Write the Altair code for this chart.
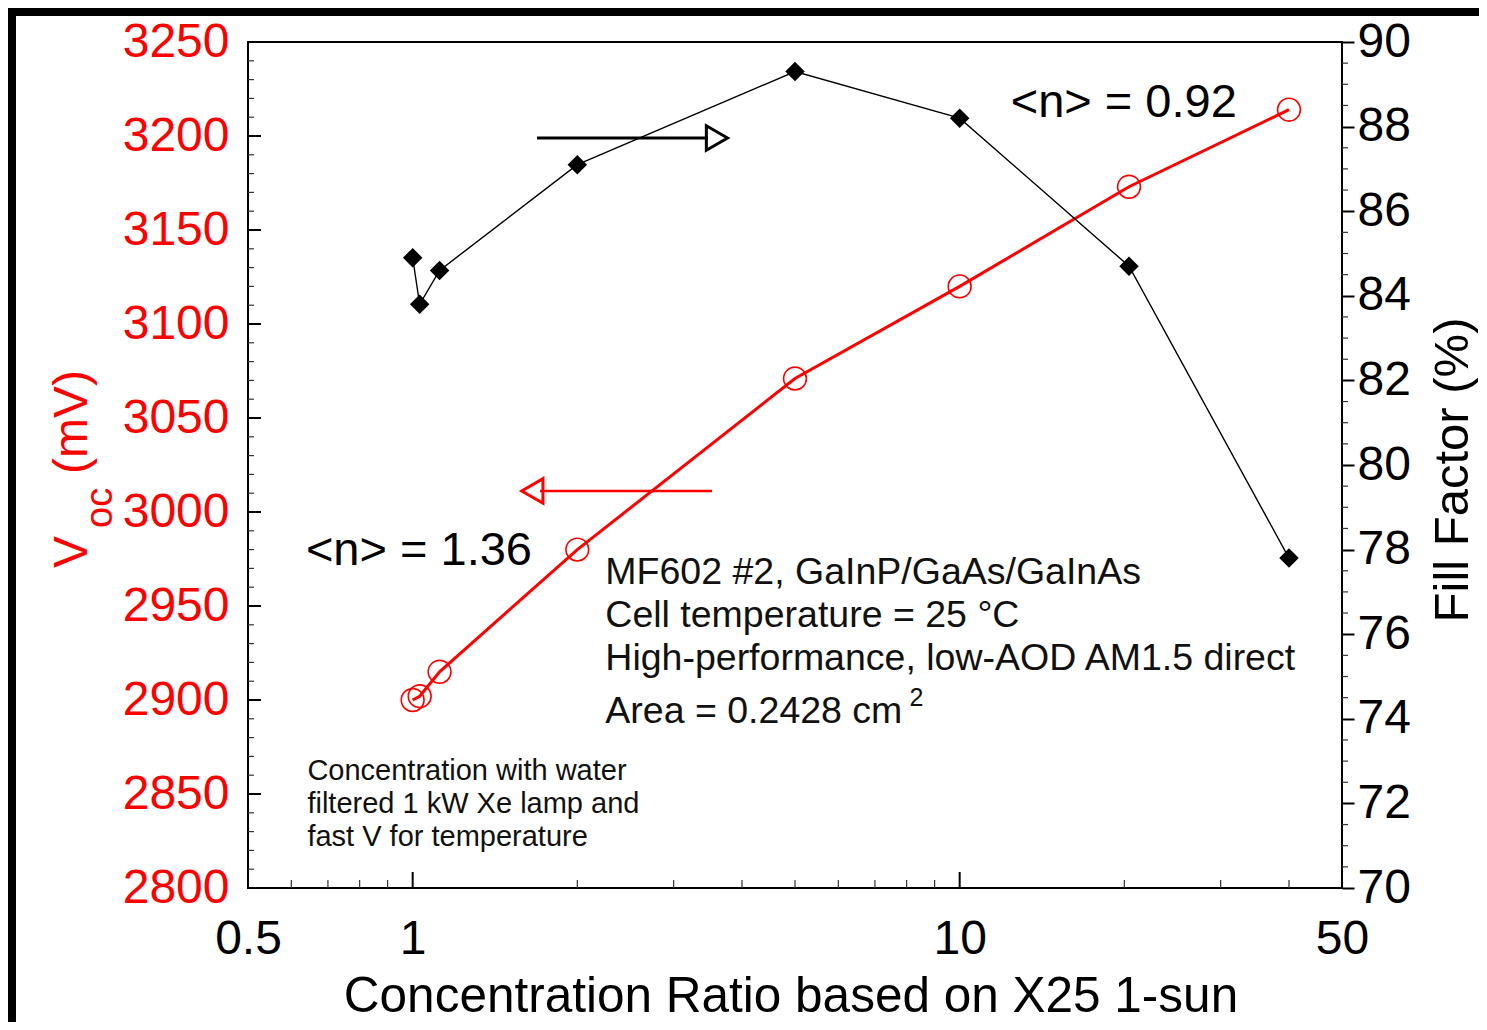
import altair as alt
import pandas as pd

# ---- data ----
conc = [1.0, 1.03, 1.12, 2.0, 5.0, 10.0, 20.4, 40.0]
voc = [2900, 2902, 2915, 2980, 3071, 3120, 3173, 3214]
ff = [84.9, 83.8, 84.6, 87.1, 89.3, 88.2, 84.7, 77.8]

x_label_vals = [0.5, 1, 10, 50]
x_major = [1, 10]
x_minor = [0.6, 0.7, 0.8, 0.9, 2, 3, 4, 5, 6, 7, 8, 9, 20, 30, 40]
voc_major = [2800, 2850, 2900, 2950, 3000, 3050, 3100, 3150, 3200, 3250]
voc_minor = [v for v in range(2800, 3251, 10) if v % 50]
ff_major = [70, 72, 74, 76, 78, 80, 82, 84, 86, 88, 90]
ff_minor = [70 + 0.5 * i for i in range(41) if i % 4]

ann_text = ["<n> = 0.92", "<n> = 1.36"]
ann_x = [12.4, 0.638]
ann_y = [3210.0, 2972.0]

info_text = ["MF602 #2, GaInP/GaAs/GaInAs", "Cell temperature = 25 \u00b0C",
             "High-performance, low-AOD AM1.5 direct", "Area = 0.2428 cm"]
info_x = [2.25, 2.25, 2.25, 2.25]
info_y = [2961.7, 2938.8, 2916.0, 2887.8]
sup_text = ["2"]
sup_x = [8.1]
sup_y = [2896.8]

note_text = ["Concentration with water", "filtered 1 kW Xe lamp and", "fast V for temperature"]
note_x = [0.642, 0.642, 0.642]
note_y = [2857.4, 2839.9, 2822.3]

# arrows (data coordinates)
blk_arrow_x = [1.688, 3.467]
blk_arrow_head_x = [3.60]
blk_arrow_y = [87.73]
red_arrow_x = [1.709, 3.526]
red_arrow_head_x = [1.655]
red_arrow_y = [3011.2]

RED = "#ff0000"
FONT = "Liberation Sans"
W, H = 1094, 846

x_scale = alt.Scale(type="log", domain=[0.5, 50], nice=False)
voc_scale = alt.Scale(domain=[2800, 3250], nice=False, zero=False)
ff_scale = alt.Scale(domain=[70, 90], nice=False, zero=False)

x_axis = alt.Axis(values=x_label_vals, format="~g", ticks=False, domain=False, grid=False,
                  labelFontSize=48, labelPadding=27, labelFlush=False, labelOverlap=False,
                  labelColor="black", labelFont=FONT, title=None)
voc_axis = alt.Axis(orient="left", values=voc_major, format="d", ticks=False, domain=False,
                    grid=False, labelFontSize=48, labelColor=RED, labelPadding=19,
                    labelFlush=False, labelOverlap=False, labelFont=FONT, title=None)
ff_axis = alt.Axis(orient="right", values=ff_major, format="d", ticks=True, tickSize=12,
                   tickWidth=2, tickColor="black", domain=False, grid=False, labelFontSize=48,
                   labelColor="black", labelPadding=3, labelFlush=False, labelOverlap=False,
                   labelFont=FONT, title=None)

main = pd.DataFrame({"conc": conc, "voc": voc, "ff": ff})
one = pd.DataFrame({"a": [0]})


def Xq(f):
    return alt.X(f, type="quantitative", scale=x_scale, axis=x_axis)


def Yv(f):
    return alt.Y(f, type="quantitative", scale=voc_scale, axis=voc_axis)


def Yf(f):
    return alt.Y(f, type="quantitative", scale=ff_scale, axis=ff_axis)


# ---------------- red (left axis) group ----------------
red_line = alt.Chart(main).mark_line(color=RED, strokeWidth=3).encode(x=Xq("conc"), y=Yv("voc"))
red_pts = alt.Chart(main).mark_point(shape="circle", filled=False, color=RED, size=520,
                                     strokeWidth=1.6, opacity=1).encode(x=Xq("conc"), y=Yv("voc"))

lt_major = alt.Chart(pd.DataFrame({"v": voc_major})).mark_rule(color="black", strokeWidth=2).encode(
    y=Yv("v"), x=alt.value(0), x2=alt.value(13))
lt_minor = alt.Chart(pd.DataFrame({"v": voc_minor})).mark_rule(color="#333", strokeWidth=1.2).encode(
    y=Yv("v"), x=alt.value(0), x2=alt.value(6))
xt_major = alt.Chart(pd.DataFrame({"c": x_major})).mark_rule(color="black", strokeWidth=2).encode(
    x=Xq("c"), y=alt.value(H), y2=alt.value(H - 16))
xt_minor = alt.Chart(pd.DataFrame({"c": x_minor})).mark_rule(color="#333", strokeWidth=1.2).encode(
    x=Xq("c"), y=alt.value(H), y2=alt.value(H - 8))

red_arrow = alt.Chart(pd.DataFrame({"x1": [red_arrow_x[0]], "x2": [red_arrow_x[1]], "y": red_arrow_y})).mark_rule(
    color=RED, strokeWidth=2.5).encode(x=Xq("x1"), x2="x2:Q", y=Yv("y"))
red_head = alt.Chart(pd.DataFrame({"x": red_arrow_head_x, "y": red_arrow_y})).mark_point(
    shape="triangle-left", filled=False, color=RED, size=600, strokeWidth=3, opacity=1).encode(
    x=Xq("x"), y=Yv("y"))

ann = alt.Chart(pd.DataFrame({"t": ann_text, "x": ann_x, "y": ann_y})).mark_text(
    align="left", baseline="alphabetic", fontSize=47, font=FONT, color="black").encode(
    x=Xq("x"), y=Yv("y"), text="t:N")
info = alt.Chart(pd.DataFrame({"t": info_text, "x": info_x, "y": info_y})).mark_text(
    align="left", baseline="alphabetic", fontSize=37.5, font=FONT, color="#111").encode(
    x=Xq("x"), y=Yv("y"), text="t:N")
sup = alt.Chart(pd.DataFrame({"t": sup_text, "x": sup_x, "y": sup_y})).mark_text(
    align="left", baseline="alphabetic", fontSize=25, font=FONT, color="#111").encode(
    x=Xq("x"), y=Yv("y"), text="t:N")
note = alt.Chart(pd.DataFrame({"t": note_text, "x": note_x, "y": note_y})).mark_text(
    align="left", baseline="alphabetic", fontSize=29, font=FONT, color="#111").encode(
    x=Xq("x"), y=Yv("y"), text="t:N")

# frame around the figure and axis titles (placed in pixels around the plot area)
frame = alt.Chart(one).mark_rect(fill="transparent", stroke="black", strokeWidth=8).encode(
    x=alt.value(-236), x2=alt.value(W + 300), y=alt.value(-30), y2=alt.value(H + 200))
t_V = alt.Chart(one).mark_text(text="V", angle=270, align="left", baseline="alphabetic",
                               fontSize=48, font=FONT, color=RED).encode(x=alt.value(-161), y=alt.value(526))
t_oc = alt.Chart(one).mark_text(text="oc", angle=270, align="left", baseline="alphabetic",
                                fontSize=38, font=FONT, color=RED).encode(x=alt.value(-136), y=alt.value(486))
t_mv = alt.Chart(one).mark_text(text="(mV)", angle=270, align="left", baseline="alphabetic",
                                fontSize=48, font=FONT, color=RED).encode(x=alt.value(-161), y=alt.value(432))
t_ff = alt.Chart(one).mark_text(text="Fill Factor (%)", angle=270, align="center", baseline="alphabetic",
                                fontSize=49, font=FONT, color="black").encode(x=alt.value(W + 126), y=alt.value(428))
t_x = alt.Chart(one).mark_text(text="Concentration Ratio based on X25 1-sun", align="center",
                               baseline="alphabetic", fontSize=49.5, font=FONT, color="black").encode(
    x=alt.value(W / 2 - 4), y=alt.value(H + 124))

red_group = alt.layer(frame, red_line, lt_major, lt_minor, xt_major, xt_minor, red_pts,
                      red_arrow, red_head, ann, info, sup, note, t_V, t_oc, t_mv, t_ff, t_x)

# ---------------- black (right axis) group ----------------
blk_line = alt.Chart(main).mark_line(color="black", strokeWidth=1.4).encode(x=Xq("conc"), y=Yf("ff"))
blk_pts = alt.Chart(main).mark_point(shape="diamond", filled=True, color="black", size=380, opacity=1).encode(
    x=Xq("conc"), y=Yf("ff"))
rt_minor = alt.Chart(pd.DataFrame({"v": ff_minor})).mark_rule(color="#333", strokeWidth=1.2).encode(
    y=Yf("v"), x=alt.value(W), x2=alt.value(W + 6))
blk_arrow = alt.Chart(pd.DataFrame({"x1": [blk_arrow_x[0]], "x2": [blk_arrow_x[1]], "y": blk_arrow_y})).mark_rule(
    color="black", strokeWidth=3).encode(x=Xq("x1"), x2="x2:Q", y=Yf("y"))
blk_head = alt.Chart(pd.DataFrame({"x": blk_arrow_head_x, "y": blk_arrow_y})).mark_point(
    shape="triangle-right", filled=False, color="black", size=600, strokeWidth=3, opacity=1).encode(
    x=Xq("x"), y=Yf("y"))

blk_group = alt.layer(blk_line, rt_minor, blk_pts, blk_arrow, blk_head)

chart = alt.layer(red_group, blk_group).resolve_scale(y="independent").properties(
    width=W, height=H,
    padding={"left": 240, "top": 34, "right": 137, "bottom": 134},
    autosize=alt.AutoSizeParams(type="none"),
).configure(font=FONT, background="white").configure_view(stroke="black", strokeWidth=2)

chart.save("out.html", embed_options={"renderer": "svg", "actions": False})
